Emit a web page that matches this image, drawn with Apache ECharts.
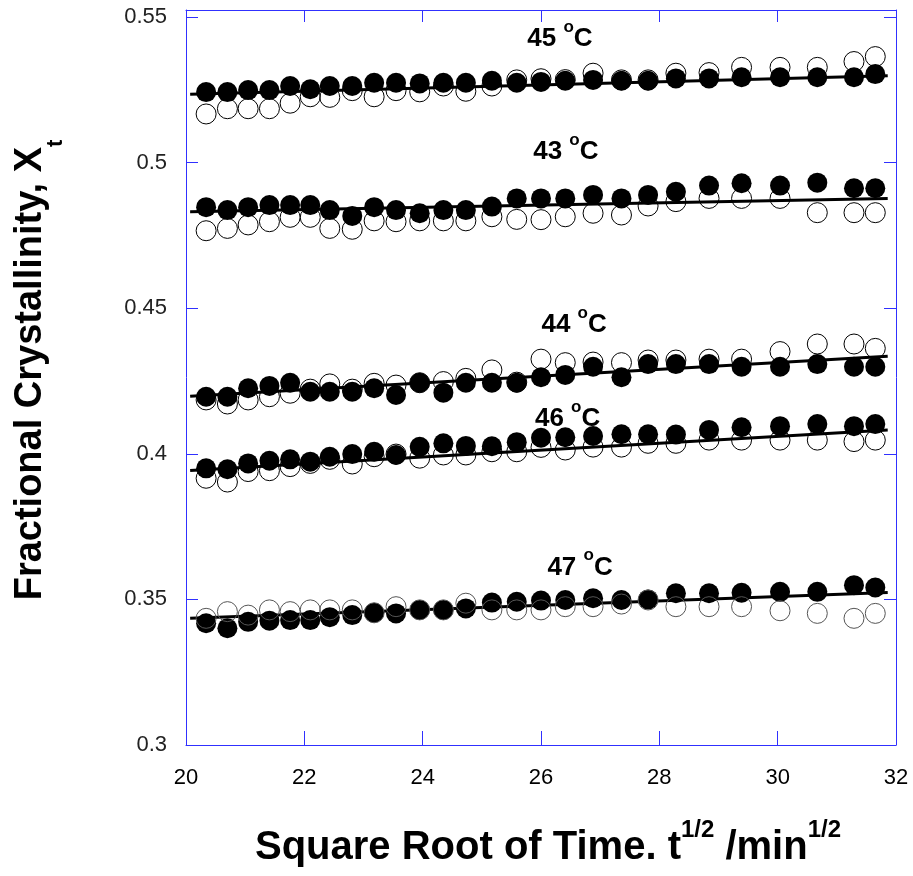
<!DOCTYPE html>
<html>
<head>
<meta charset="utf-8">
<script src="https://cdn.jsdelivr.net/npm/echarts@6/dist/echarts.min.js"></script>
<style>
  html, body { margin: 0; padding: 0; background: #fff; }
  #chart { width: 913px; height: 876px; }
</style>
</head>
<body>
<div id="chart"></div>
<script>
// square root of time (min^1/2), same for every run
let sqrtTime = [20.34, 20.70, 21.05, 21.41, 21.76, 22.10, 22.43, 22.81, 23.18, 23.55,
                23.95, 24.35, 24.73, 25.17, 25.59, 26.00, 26.41, 26.88, 27.36, 27.81,
                28.28, 28.84, 29.39, 30.04, 30.67, 31.29, 31.65];

// -- 45 oC --
let filled45 = [0.5242, 0.5242, 0.5249, 0.5249, 0.5263, 0.5252, 0.5263, 0.5263, 0.5274, 0.5274,
                0.5272, 0.5274, 0.5274, 0.5281, 0.5274, 0.5277, 0.5281, 0.5284, 0.5281, 0.5281,
                0.5289, 0.5289, 0.5293, 0.5293, 0.5293, 0.5293, 0.5304];
let open45 = [0.5167, 0.5185, 0.5185, 0.5185, 0.5204, 0.5226, 0.5224, 0.5247, 0.5226, 0.5247,
              0.5243, 0.5263, 0.5245, 0.5263, 0.5284, 0.5288, 0.5285, 0.5307, 0.5284, 0.5284,
              0.5307, 0.5309, 0.5327, 0.5327, 0.5327, 0.5347, 0.5364];
// -- 43 oC --
let filled43 = [0.4847, 0.4837, 0.4847, 0.4854, 0.4854, 0.4854, 0.4837, 0.4817, 0.4847, 0.4837,
                0.4826, 0.4837, 0.4837, 0.4849, 0.4877, 0.4877, 0.4877, 0.4889, 0.4877, 0.4889,
                0.4900, 0.4921, 0.4929, 0.4921, 0.4931, 0.4912, 0.4912];
let open43 = [0.4766, 0.4774, 0.4786, 0.4797, 0.4812, 0.4812, 0.4774, 0.4771, 0.4800, 0.4797,
              0.4800, 0.4800, 0.4800, 0.4814, 0.4805, 0.4804, 0.4814, 0.4826, 0.4820, 0.4851,
              0.4866, 0.4877, 0.4877, 0.4877, 0.4828, 0.4828, 0.4828];
// -- 44 oC --
let filled44 = [0.4196, 0.4196, 0.4225, 0.4233, 0.4244, 0.4213, 0.4213, 0.4213, 0.4225, 0.4202,
                0.4244, 0.4210, 0.4244, 0.4244, 0.4244, 0.4263, 0.4271, 0.4299, 0.4263, 0.4308,
                0.4308, 0.4308, 0.4299, 0.4299, 0.4308, 0.4299, 0.4299];
let open44 = [0.4185, 0.4171, 0.4185, 0.4196, 0.4208, 0.4222, 0.4240, 0.4222, 0.4242, 0.4236,
              0.4244, 0.4248, 0.4259, 0.4288, 0.4246, 0.4325, 0.4313, 0.4315, 0.4313, 0.4322,
              0.4322, 0.4325, 0.4325, 0.4351, 0.4377, 0.4377, 0.4362];
// -- 46 oC --
let filled46 = [0.3950, 0.3947, 0.3967, 0.3976, 0.3981, 0.3973, 0.3990, 0.3999, 0.4007, 0.3996,
                0.4024, 0.4036, 0.4027, 0.4026, 0.4040, 0.4055, 0.4057, 0.4061, 0.4067, 0.4067,
                0.4066, 0.4082, 0.4091, 0.4095, 0.4102, 0.4095, 0.4102];
let open46 = [0.3916, 0.3903, 0.3939, 0.3942, 0.3956, 0.3967, 0.3981, 0.3965, 0.3990, 0.3999,
              0.3985, 0.3996, 0.3996, 0.4007, 0.4007, 0.4022, 0.4013, 0.4023, 0.4023, 0.4036,
              0.4036, 0.4047, 0.4047, 0.4047, 0.4047, 0.4042, 0.4047];
// -- 47 oC --
let filled47 = [0.3418, 0.3401, 0.3423, 0.3427, 0.3429, 0.3429, 0.3439, 0.3446, 0.3454, 0.3452,
                0.3464, 0.3464, 0.3469, 0.3489, 0.3492, 0.3496, 0.3498, 0.3504, 0.3498, 0.3500,
                0.3521, 0.3521, 0.3523, 0.3526, 0.3526, 0.3549, 0.3541];
let open47 = [0.3435, 0.3458, 0.3446, 0.3464, 0.3458, 0.3464, 0.3464, 0.3464, 0.3454, 0.3475,
              0.3464, 0.3464, 0.3487, 0.3464, 0.3464, 0.3464, 0.3475, 0.3475, 0.3484, 0.3498,
              0.3475, 0.3475, 0.3475, 0.3461, 0.3452, 0.3435, 0.3452];

// fitted straight lines, end points
let fitX = [20.07, 31.86];
let fit45 = [0.5235, 0.5298];
let fit43 = [0.4831, 0.4877];
let fit44 = [0.4198, 0.4335];
let fit46 = [0.3943, 0.4082];
let fit47 = [0.3435, 0.3524];

// temperature tags
let tempNames = ['45', '43', '44', '46', '47'];
let tempLabelX = [26.32, 26.42, 26.56, 26.45, 26.66];
let tempLabelY = [0.5424, 0.5036, 0.4442, 0.4119, 0.3610];

let xTicks = {min: 20, max: 32, interval: 2};
let yTicks = {min: 0.3, max: 0.5524, interval: 0.05};

let FONT = "'Liberation Sans', Arial, Helvetica, sans-serif";
let BLUE = '#3030ff';

function pairs(xs, ys) {
  return ys.map(function (y, i) { return [xs[i], y]; });
}

let groups = [
  {filled: filled45, open: open45, fit: fit45, ring: '#000'},
  {filled: filled43, open: open43, fit: fit43, ring: '#000'},
  {filled: filled44, open: open44, fit: fit44, ring: '#000'},
  {filled: filled46, open: open46, fit: fit46, ring: '#000'},
  {filled: filled47, open: open47, fit: fit47, ring: '#555'}
];

let series = [];
groups.forEach(function (g) {
  series.push({
    type: 'line', data: pairs(fitX, g.fit), symbol: 'none', z: 2,
    lineStyle: {color: '#000', width: 3}
  });
  series.push({
    type: 'scatter', data: pairs(sqrtTime, g.filled), symbol: 'circle', symbolSize: 20, z: 3,
    itemStyle: {color: '#000', opacity: 1}
  });
  series.push({
    type: 'scatter', data: pairs(sqrtTime, g.open), symbol: 'circle', symbolSize: 20, z: 4,
    itemStyle: {color: 'rgba(0,0,0,0)', borderColor: g.ring, borderWidth: 1, opacity: 1}
  });
});

// -- temperature labels --
series.push({
  type: 'scatter', silent: true, z: 6, symbolSize: 0,
  itemStyle: {color: 'rgba(0,0,0,0)'},
  data: tempNames.map(function (t, i) { return [tempLabelX[i], tempLabelY[i], t]; }),
  label: {
    show: true, position: 'inside', color: '#000', opacity: 1,
    formatter: function (p) { return '{n|' + p.data[2] + ' }{o|o}{n|C}'; },
    rich: {
      n: {fontFamily: FONT, fontSize: 26, fontWeight: 'bold', color: '#000', lineHeight: 41},
      o: {fontFamily: FONT, fontSize: 17, fontWeight: 'bold', color: '#000', lineHeight: 17, verticalAlign: 'top'}
    }
  }
});

let frameLine = {show: true, onZero: false, lineStyle: {color: BLUE, width: 1}};

let option = {
  animation: false,
  backgroundColor: '#fff',
  grid: {left: 186, right: 17, top: 10, bottom: 131, containLabel: false, outerBoundsMode: 'none'},
  xAxis: [{
    type: 'value', position: 'bottom', min: xTicks.min, max: xTicks.max, interval: xTicks.interval,
    axisLine: frameLine,
    axisTick: {inside: true, length: 14, lineStyle: {color: BLUE}},
    axisLabel: {color: '#000', fontSize: 22, fontFamily: FONT, margin: 22},
    splitLine: {show: false},
    name: '{m|Square Root of Time. t}{s|1/2}{m| /min}{s|1/2}',
    nameLocation: 'middle', nameGap: 73,
    nameTextStyle: {
      padding: [0, 0, 0, 14],
      rich: {
        m: {fontFamily: FONT, fontSize: 40, fontWeight: 'bold', color: '#000', lineHeight: 60},
        s: {fontFamily: FONT, fontSize: 24, fontWeight: 'bold', color: '#000', lineHeight: 24, verticalAlign: 'top'}
      }
    }
  }, {
    type: 'value', position: 'top', min: xTicks.min, max: xTicks.max, interval: xTicks.interval,
    axisLine: frameLine,
    axisTick: {inside: true, length: 12, lineStyle: {color: BLUE}},
    axisLabel: {show: false},
    splitLine: {show: false}
  }],
  yAxis: [{
    type: 'value', position: 'left', min: yTicks.min, max: yTicks.max, interval: yTicks.interval,
    axisLine: frameLine,
    axisTick: {inside: true, length: 12, lineStyle: {color: BLUE}},
    axisLabel: {
      color: '#222', fontSize: 22, fontFamily: FONT, margin: 19, showMaxLabel: false,
      formatter: function (v) {
        let k = Math.round(v / yTicks.interval);
        return Math.abs(v - k * yTicks.interval) < 1e-6 ? String(+(k * yTicks.interval).toFixed(2)) : '';
      }
    },
    splitLine: {show: false},
    name: '{m|Fractional Crystallinity, X}{s|t}',
    nameLocation: 'middle', nameGap: 119,
    nameTextStyle: {
      padding: [0, 0, 0, 15],
      rich: {
        m: {fontFamily: FONT, fontSize: 38, fontWeight: 'bold', color: '#000', lineHeight: 72},
        s: {fontFamily: FONT, fontSize: 22, fontWeight: 'bold', color: '#000', lineHeight: 22, verticalAlign: 'bottom'}
      }
    }
  }, {
    type: 'value', position: 'right', min: yTicks.min, max: yTicks.max, interval: yTicks.interval,
    axisLine: frameLine,
    axisTick: {inside: true, length: 12, lineStyle: {color: BLUE}},
    axisLabel: {show: false},
    splitLine: {show: false}
  }],
  series: series
};

let myChart = echarts.init(document.getElementById('chart'));
myChart.setOption(option);
</script>
</body>
</html>
